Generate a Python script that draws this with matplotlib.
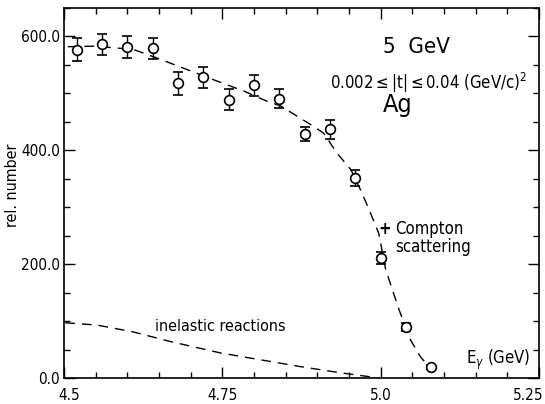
import matplotlib
matplotlib.use('Agg')
import matplotlib.pyplot as plt
import matplotlib.transforms as mtransforms
from matplotlib.ticker import MultipleLocator, FormatStrFormatter

plt.rcParams['font.family'] = ['DejaVu Sans']
plt.rcParams['font.stretch'] = 'condensed'

# measured points (E_gamma in GeV, rel. number, error)
energy = [4.52, 4.56, 4.60, 4.64, 4.68, 4.72, 4.76, 4.80, 4.84, 4.88,
          4.92, 4.96, 5.00, 5.04, 5.08]
counts = [577, 586, 582, 579, 518, 528, 489, 514, 491, 429,
          437, 351, 211, 90, 19]
errors = [20, 18, 19, 19, 20, 18, 19, 18, 17, 12,
          17, 14, 11, 7, 3]

# dashed fit (Compton scattering + inelastic)
fit_e = [4.506, 4.55, 4.61, 4.647, 4.694, 4.736, 4.784, 4.821, 4.842, 4.894,
         4.910, 4.931, 4.953, 4.968, 4.982, 4.997, 5.008, 5.029, 5.047, 5.063, 5.076]
fit_n = [582, 583, 577, 562, 542, 524, 504, 486, 478, 442,
         430, 395, 366, 331, 295, 254, 190, 120, 67, 37, 20]

# inelastic reactions background
inel_e = [4.502, 4.552, 4.609, 4.668, 4.747, 4.81, 4.873, 4.937, 4.984]
inel_n = [97, 93, 81, 64, 44, 32, 20, 9, 2]

xticks = [4.5, 4.75, 5.0, 5.25]
xtick_labels = ['4.5', '4.75', '5.0', '5.25']

fig = plt.figure(figsize=(5.45, 4.04), dpi=100)
ax = fig.add_axes([0.1174, 0.0644, 0.8716, 0.9158])

dash = (0, (7, 5))
ax.plot(fit_e, fit_n, color='black', lw=1.0, linestyle=dash)
ax.plot(inel_e, inel_n, color='black', lw=1.0, linestyle=dash)
ax.errorbar(energy, counts, yerr=errors, fmt='o', mfc='white', mec='black',
            ms=7, mew=1.2, ecolor='black', elinewidth=1.0, capsize=3.5, capthick=1.0)

ax.set_xlim(4.5, 5.25)
ax.set_ylim(0, 650)
ax.xaxis.set_minor_locator(MultipleLocator(0.05))
ax.yaxis.set_major_locator(MultipleLocator(200))
ax.yaxis.set_minor_locator(MultipleLocator(50))
ax.set_xticks(xticks)
ax.set_xticklabels(xtick_labels)
ax.yaxis.set_major_formatter(FormatStrFormatter('%.1f'))
ax.tick_params(which='both', direction='in', top=True, right=True, labelsize=11, width=1.0)
ax.tick_params(which='major', length=8)
ax.tick_params(which='minor', length=4)
ax.tick_params(axis='x', pad=7)
ax.tick_params(axis='y', pad=3)
for s in ax.spines.values():
    s.set_linewidth(1.2)

# nudge the end labels inside the figure, like the original
labels = ax.get_xticklabels()
labels[0].set_transform(labels[0].get_transform() +
                        mtransforms.ScaledTranslation(5 / 100, 0, fig.dpi_scale_trans))
labels[-1].set_transform(labels[-1].get_transform() +
                         mtransforms.ScaledTranslation(-11 / 100, 0, fig.dpi_scale_trans))

ax.set_ylabel('rel. number', fontsize=11.5)
ax.yaxis.set_label_coords(-0.092, 0.52)

ax.text(0.6716, 0.8946, '5  GeV', transform=ax.transAxes, fontsize=16, va='center', ha='left')
ax.text(0.975, 0.797, r'0.002$\leq$|t|$\leq$0.04 (GeV/c)$^2$', transform=ax.transAxes,
        fontsize=12, va='center', ha='right')
ax.text(0.6716, 0.738, 'Ag', transform=ax.transAxes, fontsize=18, va='center', ha='left')
ax.text(0.1916, 0.138, 'inelastic reactions', transform=ax.transAxes, fontsize=11.5, va='center')
ax.text(0.676, 0.403, '+', transform=ax.transAxes, fontsize=12, va='center', ha='center',
        fontweight='bold')
ax.text(0.697, 0.403, 'Compton', transform=ax.transAxes, fontsize=12, va='center', ha='left')
ax.text(0.697, 0.355, 'scattering', transform=ax.transAxes, fontsize=12, va='center', ha='left')
ax.text(0.846, 0.049, r'E$_\gamma$ (GeV)', transform=ax.transAxes, fontsize=12, va='center')

fig.savefig('out.png', dpi=100)
